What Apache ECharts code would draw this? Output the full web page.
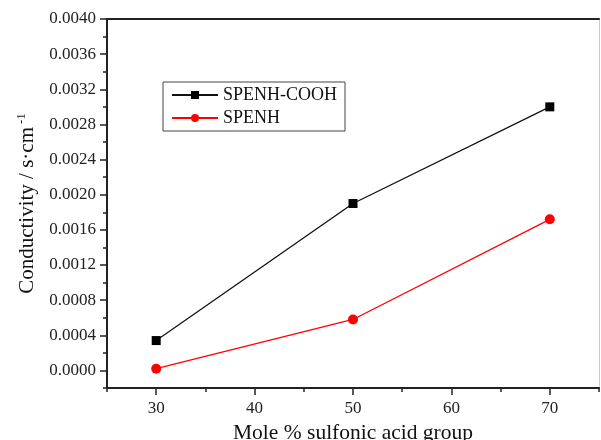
<!DOCTYPE html>
<html>
<head>
<meta charset="utf-8">
<script src="https://cdn.jsdelivr.net/npm/echarts@6/dist/echarts.min.js"></script>
<style>
html, body { margin: 0; padding: 0; background: #fff; }
#chart { width: 601px; height: 440px; }
</style>
</head>
<body>
<div id="chart"></div>
<script>
var xValues = [30, 50, 70],
	cooh = [0.00034, 0.0019, 0.0030],
	spenh = [0.00002, 0.00058, 0.00172],
	xTicks = [30, 40, 50, 60, 70],
	yTicks = [0, 0.0004, 0.0008, 0.0012, 0.0016, 0.0020, 0.0024, 0.0028, 0.0032, 0.0036, 0.0040];

var serif = '"Liberation Serif", "Times New Roman", serif';

var pairs = function(ys){
	var out = [];
	for(var i = 0; i < xValues.length; i++){
		out.push([xValues[i], ys[i]]);
	}
	return out;
}

var myChart = echarts.init(document.getElementById('chart'));

var option = {
	backgroundColor: '#fff',
	animation: false,
	grid: {left: 107, right: 2, top: 19, bottom: 52, outerBoundsMode: 'none'},
	legend: {
		orient: 'vertical',
		left: 163,
		top: 82,
		width: 180,
		itemWidth: 46,
		itemHeight: 10,
		itemGap: 5,
		padding: [4, 8, 4, 8],
		borderColor: '#444',
		borderWidth: 1,
		textStyle: {fontFamily: serif, fontSize: 18, color: '#111'},
		data: ['SPENH-COOH', 'SPENH']
	},
	xAxis: [{
		type: 'value',
		position: 'bottom',
		min: 25,
		max: 75,
		interval: 5,
		name: 'Mole % sulfonic acid group',
		nameLocation: 'middle',
		nameGap: 33,
		nameTextStyle: {fontFamily: serif, fontSize: 21.5, color: '#111'},
		axisLine: {onZero: false, lineStyle: {color: '#222', width: 2}},
		axisTick: {length: 7, lineStyle: {color: '#222', width: 1.5}, customValues: xTicks},
		axisLabel: {fontFamily: serif, fontSize: 17, color: '#222', margin: 12, customValues: xTicks},
		splitLine: {show: false}
	}, {
		// minor ticks
		type: 'value',
		position: 'bottom',
		min: 25,
		max: 75,
		interval: 5,
		axisLine: {show: false, onZero: false},
		axisTick: {length: 4, lineStyle: {color: '#222', width: 1.5}},
		axisLabel: {show: false},
		splitLine: {show: false}
	}, {
		type: 'value',
		position: 'top',
		min: 25,
		max: 75,
		axisLine: {onZero: false, lineStyle: {color: '#222', width: 2}},
		axisTick: {show: false},
		axisLabel: {show: false},
		splitLine: {show: false}
	}],
	yAxis: [{
		type: 'value',
		position: 'left',
		min: -0.0002,
		max: 0.004,
		name: 'Conductivity / s·cm{sup|-1}',
		nameLocation: 'middle',
		nameGap: 66,
		nameTextStyle: {
			fontFamily: serif, fontSize: 21, color: '#111',
			rich: {sup: {fontFamily: serif, fontSize: 13, color: '#111', verticalAlign: 'top', padding: [0, 0, 12, 3]}}
		},
		axisLine: {onZero: false, lineStyle: {color: '#222', width: 2}},
		axisTick: {length: 7, lineStyle: {color: '#222', width: 1.5}, customValues: yTicks},
		axisLabel: {
			fontFamily: serif, fontSize: 17, color: '#222', margin: 11, customValues: yTicks,
			formatter: function(v){ return v.toFixed(4); }
		},
		splitLine: {show: false}
	}, {
		// minor ticks
		type: 'value',
		position: 'left',
		min: -0.0002,
		max: 0.004,
		interval: 0.0002,
		axisLine: {show: false, onZero: false},
		axisTick: {length: 4, lineStyle: {color: '#222', width: 1.5}},
		axisLabel: {show: false},
		splitLine: {show: false}
	}, {
		type: 'value',
		position: 'right',
		min: -0.0002,
		max: 0.004,
		axisLine: {onZero: false, lineStyle: {color: '#ccc', width: 1}},
		axisTick: {show: false},
		axisLabel: {show: false},
		splitLine: {show: false}
	}],
	series: [{
		name: 'SPENH-COOH',
		type: 'line',
		xAxisIndex: 0,
		yAxisIndex: 0,
		data: pairs(cooh),
		symbol: 'rect',
		symbolSize: 9,
		itemStyle: {color: '#000'},
		lineStyle: {color: '#111', width: 1.3}
	}, {
		name: 'SPENH',
		type: 'line',
		xAxisIndex: 0,
		yAxisIndex: 0,
		data: pairs(spenh),
		symbol: 'circle',
		symbolSize: 10,
		itemStyle: {color: '#f00'},
		lineStyle: {color: '#f00', width: 1.3}
	}]
}

myChart.setOption(option);
</script>
</body>
</html>
